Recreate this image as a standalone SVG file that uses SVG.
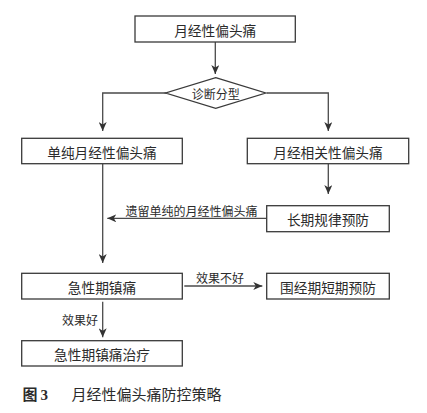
<svg xmlns="http://www.w3.org/2000/svg" width="427" height="413" viewBox="0 0 427 413">
<defs>
<style>
.box{fill:#fff;stroke:#3a3a3a;stroke-width:1.3}
.t{font-family:"Noto Sans CJK SC","Noto Sans CJK JP",sans-serif;font-size:13.7px;fill:#2b2b2b;text-anchor:middle;dominant-baseline:central}
.s{font-family:"Noto Sans CJK SC","Noto Sans CJK JP",sans-serif;font-size:12px;fill:#2b2b2b;text-anchor:middle;dominant-baseline:central}
.ln{fill:none;stroke:#4a4a4a;stroke-width:1.3}
.cap{font-family:"Noto Sans CJK SC","Noto Sans CJK JP",sans-serif;font-size:15px;fill:#2b2b2b}
</style>
<marker id="ah" markerUnits="userSpaceOnUse" markerWidth="10" markerHeight="8" refX="9" refY="4" orient="auto">
<path d="M0,0 L9,4 L0,8 L2.5,4 Z" fill="#333"/>
</marker>
</defs>
<rect width="427" height="413" fill="#fff"/>
<g id="connectors">
<line class="ln" x1="215.3" y1="42" x2="215.3" y2="74" marker-end="url(#ah)"/>
<polyline class="ln" points="166,93 102.7,93 102.7,131" marker-end="url(#ah)"/>
<polyline class="ln" points="266.7,93 328.3,93 328.3,131" marker-end="url(#ah)"/>
<line class="ln" x1="328.3" y1="164" x2="328.3" y2="194" marker-end="url(#ah)"/>
<line class="ln" x1="102.7" y1="164" x2="102.7" y2="263" marker-end="url(#ah)"/>
<line class="ln" x1="266.7" y1="218.3" x2="107.3" y2="218.3" marker-end="url(#ah)"/>
<text class="s" x="191.5" y="210">遗留单纯的月经性偏头痛</text>
<line class="ln" x1="184.3" y1="286" x2="262.3" y2="286" marker-end="url(#ah)"/>
<text class="s" x="220" y="277">效果不好</text>
<line class="ln" x1="102.7" y1="301.7" x2="102.7" y2="337.3" marker-end="url(#ah)"/>
<text class="s" x="80" y="319.5">效果好</text>
</g>
<g id="n1"><rect class="box" x="135" y="16" width="160.3" height="26"/><text class="t" x="215.2" y="29.5">月经性偏头痛</text></g>
<g id="n2"><polygon class="box" points="215.7,77.7 265.7,93 215.7,108.3 165.7,93"/><text class="s" x="215.7" y="93">诊断分型</text></g>
<g id="n3"><rect class="box" x="21.7" y="138.3" width="160.6" height="25.4"/><text class="t" x="102" y="151.5">单纯月经性偏头痛</text></g>
<g id="n4"><rect class="box" x="247.3" y="138.3" width="161.4" height="25.4"/><text class="t" x="328" y="151.5">月经相关性偏头痛</text></g>
<g id="n5"><rect class="box" x="266.7" y="205.7" width="122.6" height="26"/><text class="t" x="328" y="219">长期规律预防</text></g>
<g id="n6"><rect class="box" x="21.7" y="273.3" width="160.6" height="25.7"/><text class="t" x="102" y="286.5">急性期镇痛</text></g>
<g id="n7"><rect class="box" x="266.7" y="273.3" width="122.6" height="25.7"/><text class="t" x="328" y="286.5">围经期短期预防</text></g>
<g id="n8"><rect class="box" x="21.7" y="340.7" width="160.6" height="25.3"/><text class="t" x="102" y="353.5">急性期镇痛治疗</text></g>
<g id="caption">
<text class="cap" x="22.5" y="399.5" font-weight="bold">图<tspan font-family="'Liberation Serif',serif" font-weight="bold" dx="3">3</tspan></text>
<text class="cap" x="71.5" y="399.5">月经性偏头痛防控策略</text>
</g>
</svg>
